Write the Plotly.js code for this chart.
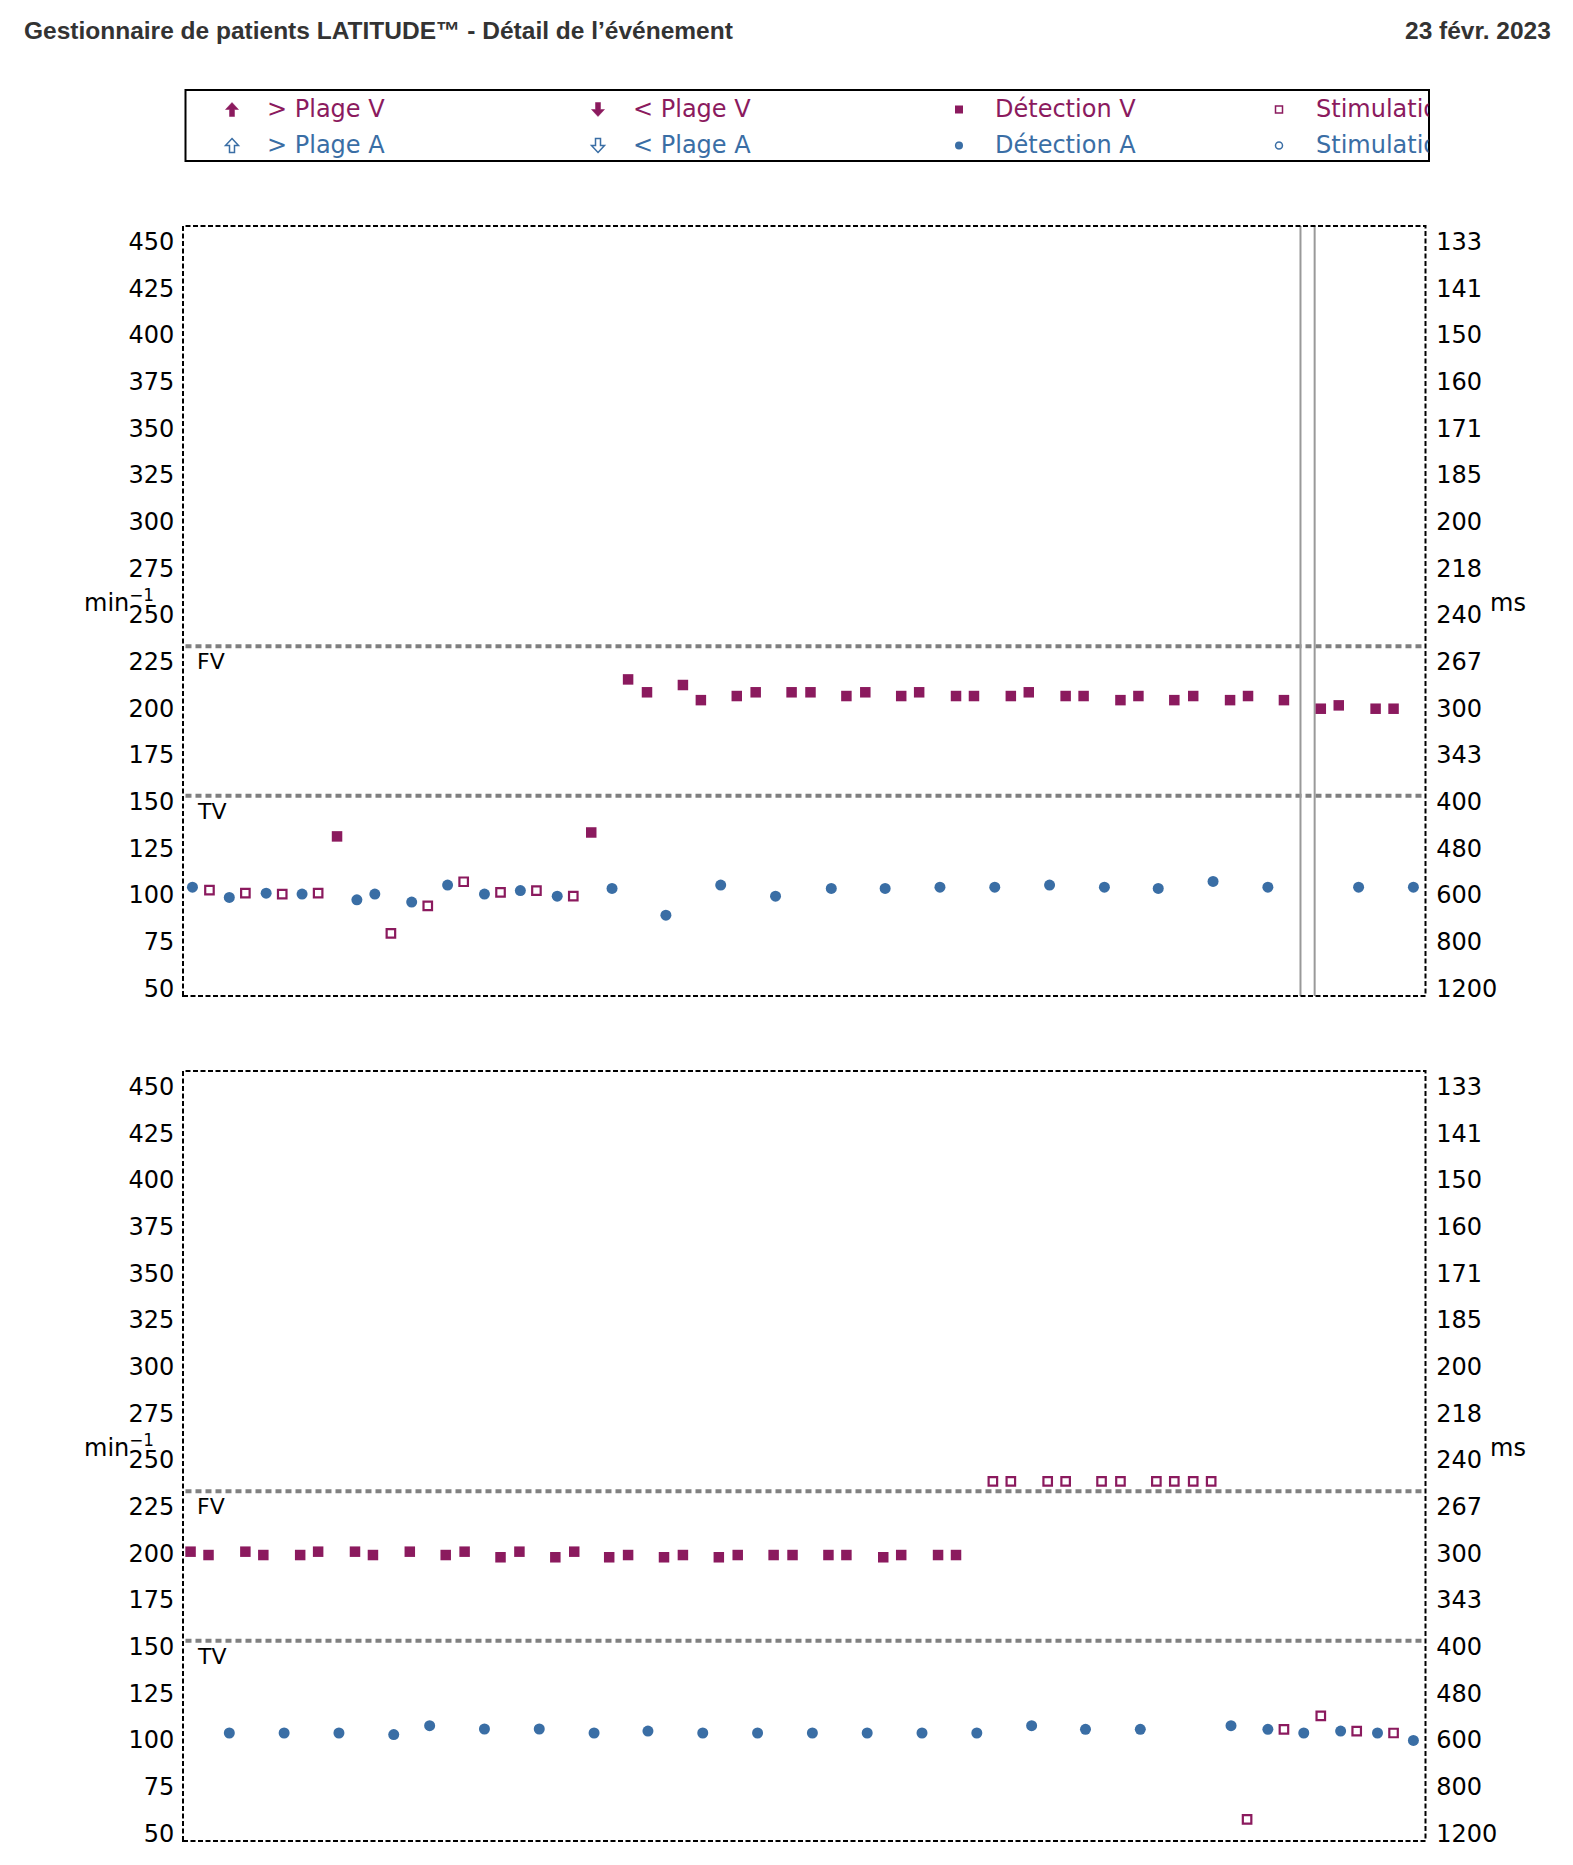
<!DOCTYPE html>
<html>
<head>
<meta charset="utf-8">
<script src="https://cdn.plot.ly/plotly-3.0.1.min.js"></script>
<style>html,body{margin:0;padding:0;background:#fff}#chart{width:1573px;height:1865px}</style>
</head>
<body>
<div id="chart"></div>
<script>
// ---------- data (time in s, rate in min-1) ----------
const rateTicks = [50,75,100,125,150,175,200,225,250,275,300,325,350,375,400,425,450];
const msTickText = ['1200','800','600','480','400','343','300','267','240','218','200','185','171','160','150','141','133'];
const zoneLimits = [233.3, 153.2];
const zoneLabels = ['FV','TV'];

// top strip
const topASenseT = [0.10,0.49,0.88,1.26,1.84,2.03,2.42,2.80,3.19,3.57,3.96,4.54,5.11,5.69,6.27,6.86,7.43,8.01,8.59,9.17,9.75,10.32,10.90,11.48,12.44,13.02];
const topASenseRate = [104.2,98.7,101.0,100.5,97.4,100.5,96.2,105.3,100.5,102.4,99.4,103.5,89.2,105.3,99.4,103.5,103.5,104.2,104.2,105.3,104.2,103.5,107.3,104.2,104.2,104.2];
const topVPaceT = [0.28,0.66,1.05,1.43,2.20,2.59,2.97,3.36,3.74,4.13];
const topVPaceRate = [102.6,101.0,100.5,101.0,79.4,94.2,107.1,101.4,102.4,99.4];
const topVSenseT = [1.63,4.32,4.71,4.91,5.29,5.48,5.86,6.06,6.44,6.64,7.02,7.22,7.60,7.79,8.18,8.37,8.76,8.95,9.34,9.53,9.92,10.11,10.49,10.69,11.08,11.27,11.65,12.04,12.23,12.62,12.81];
const topVSenseRate = [131.4,133.5,215.5,208.6,212.5,204.4,206.6,208.6,208.6,208.6,206.6,208.6,206.6,208.6,206.6,206.6,206.6,208.6,206.6,206.6,204.4,206.6,204.4,206.6,204.4,206.6,204.4,199.8,201.6,199.8,199.8];
const topEpisodeMarksT = [11.825, 11.975];

// bottom strip
const botASenseT = [0.49,1.07,1.65,2.23,2.61,3.19,3.77,4.35,4.92,5.50,6.08,6.66,7.24,7.82,8.40,8.98,9.55,10.13,11.09,11.48,11.86,12.25,12.64,13.02];
const botASenseRate = [103.75,103.75,103.75,102.9,107.7,105.9,105.9,103.75,104.8,103.75,103.75,103.75,103.75,103.75,103.75,107.7,105.7,105.7,107.7,105.7,103.75,104.8,103.75,99.8];
const botVSenseT = [0.08,0.27,0.66,0.85,1.24,1.43,1.82,2.01,2.40,2.78,2.98,3.36,3.56,3.94,4.14,4.51,4.71,5.09,5.29,5.67,5.87,6.25,6.45,6.83,7.02,7.41,7.60,7.99,8.18];
const botVSenseRate = [200.9,199.1,200.9,199.1,199.1,200.9,200.9,199.1,200.9,199.1,200.9,197.9,200.9,197.9,200.9,197.9,199.1,197.9,199.1,197.9,199.1,199.1,199.1,199.1,199.1,197.9,199.1,199.1,199.1];
const botVPaceT = [8.57,8.76,9.15,9.34,9.72,9.92,10.30,10.49,10.69,10.88,11.26,11.65,12.04,12.42,12.81];
const botVPaceRate = [238.6,238.6,238.6,238.6,238.6,238.6,238.6,238.6,238.6,238.6,57.5,105.7,112.9,104.8,103.75];

const legendRow1 = ['> Plage V','< Plage V','Détection V','Stimulation V'];
const legendRow2 = ['> Plage A','< Plage A','Détection A','Stimulation A'];

// ---------- styling ----------
const W = 1573, H = 1865;
const PURPLE = '#8B1A5E', BLUE = '#3A6EA5';
const FONT = 'DejaVu Sans';
const FS = 24;
const px = x => x / W;
const py = y => 1 - y / H;
const xDomain = [px(183), px(1425.5)];
const topDom = [py(996), py(226)];
const botDom = [py(1841), py(1071)];
const yRange = [45.9, 458.4];
const xRange = [0, 13.148];

function panelTraces(xa, ya, ya2, aT, aR, vsT, vsR, vpT, vpR) {
  return [
    {x: [], y: [], xaxis: xa, yaxis: ya2, mode: 'markers', showlegend: false, hoverinfo: 'skip'},
    {x: vsT, y: vsR, xaxis: xa, yaxis: ya, mode: 'markers', showlegend: false, cliponaxis: false,
     marker: {symbol: 'square', size: 10.5, color: PURPLE, line: {width: 0}}},
    {x: vpT, y: vpR, xaxis: xa, yaxis: ya, mode: 'markers', showlegend: false, cliponaxis: false,
     marker: {symbol: 'square-open', size: 8.5, color: PURPLE, line: {width: 2.2, color: PURPLE}}},
    {x: aT, y: aR, xaxis: xa, yaxis: ya, mode: 'markers', showlegend: false, cliponaxis: false,
     marker: {symbol: 'circle', size: 11, color: BLUE, line: {width: 0}}}
  ];
}

const data = [].concat(
  panelTraces('x', 'y', 'y2', topASenseT, topASenseRate, topVSenseT, topVSenseRate, topVPaceT, topVPaceRate),
  panelTraces('x2', 'y3', 'y4', botASenseT, botASenseRate, botVSenseT, botVSenseRate, botVPaceT, botVPaceRate)
);

function yLeft(domain) {
  return {domain: domain, range: yRange, tickvals: rateTicks, ticktext: rateTicks.map(String),
    showgrid: false, zeroline: false, showline: false, ticks: 'outside', ticklen: 3,
    tickcolor: 'rgba(0,0,0,0)', tickfont: {family: FONT, size: FS, color: '#000'}, fixedrange: true};
}
function yRight(anchorX, overl) {
  return {overlaying: overl, side: 'right', anchor: anchorX, range: yRange, tickvals: rateTicks, ticktext: msTickText,
    showgrid: false, zeroline: false, showline: false, ticks: 'outside', ticklen: 5,
    tickcolor: 'rgba(0,0,0,0)', tickfont: {family: FONT, size: FS, color: '#000'}, fixedrange: true};
}
function xAx() {
  return {domain: xDomain, range: xRange, visible: false, showgrid: false, zeroline: false, fixedrange: true};
}

const shapes = [];
const annotations = [];

// panel decorations
[['x', 'y'], ['x2', 'y3']].forEach(([xa, ya]) => {
  shapes.push({type: 'rect', xref: xa + ' domain', yref: ya + ' domain', x0: 0, x1: 1, y0: 0, y1: 1,
    line: {color: '#000', width: 2, dash: '5px,2.5px'}, fillcolor: 'rgba(0,0,0,0)', layer: 'above'});
  zoneLimits.forEach((v, i) => {
    shapes.push({type: 'line', xref: xa + ' domain', yref: ya, x0: 0.002, x1: 0.998, y0: v, y1: v,
      line: {color: '#808080', width: 4, dash: '6px,4px'}, layer: 'below'});
    annotations.push({xref: xa + ' domain', yref: ya, x: 0.0095, y: v, xanchor: 'left', yanchor: 'top', yshift: -1,
      text: zoneLabels[i], showarrow: false, font: {family: FONT, size: 22, color: '#000'}});
  });
});
topEpisodeMarksT.forEach(t => {
  shapes.push({type: 'line', xref: 'x', yref: 'y domain', x0: t, x1: t, y0: 0, y1: 1,
    line: {color: '#999', width: 2}, layer: 'below'});
});

// unit labels
[611, 611 + 845].forEach(base => {
  annotations.push({xref: 'paper', yref: 'paper', x: px(82), y: py(base + 8), xanchor: 'left', yanchor: 'bottom',
    text: 'min<sup>−1</sup>', showarrow: false, font: {family: FONT, size: FS, color: '#000'}});
  annotations.push({xref: 'paper', yref: 'paper', x: px(1488), y: py(base + 8), xanchor: 'left', yanchor: 'bottom',
    text: 'ms', showarrow: false, font: {family: FONT, size: FS, color: '#000'}});
});

// header
annotations.push({xref: 'paper', yref: 'paper', x: px(22), y: py(30), xanchor: 'left', yanchor: 'middle',
  text: '<b>Gestionnaire de patients LATITUDE™ - Détail de l’événement</b>', showarrow: false,
  font: {family: 'Liberation Sans', size: 24.5, color: '#333'}});
annotations.push({xref: 'paper', yref: 'paper', x: px(1553), y: py(30), xanchor: 'right', yanchor: 'middle',
  text: '<b>23 févr. 2023</b>', showarrow: false, font: {family: 'Liberation Sans', size: 24.5, color: '#333'}});

// legend box
shapes.push({type: 'rect', xref: 'paper', yref: 'paper', x0: px(185.5), x1: px(1429), y0: py(161), y1: py(90),
  line: {color: '#000', width: 2}, fillcolor: 'rgba(0,0,0,0)'});
const colText = [264.5, 630.5, 992.5, 1313.5];
const colSym = [232, 598, 959, 1279];
const rowY = [109.5, 145.5];
[legendRow1, legendRow2].forEach((row, r) => {
  const col = r === 0 ? PURPLE : BLUE;
  row.forEach((label, c) => {
    const a = {xref: 'paper', yref: 'paper', x: px(colText[c]), y: py(rowY[r]), xanchor: 'left', yanchor: 'middle',
      text: label, showarrow: false, align: 'left', font: {family: FONT, size: FS, color: col}};
    if (c === 3) a.width = 1428 - colText[c] - 2;
    annotations.push(a);
  });
});
function arrowPath(cx, cy, dir) {
  const s = dir; // 1 up, -1 down
  const pts = [[cx, cy - 7 * s], [cx + 6.5, cy], [cx + 2.5, cy], [cx + 2.5, cy + 7 * s],
               [cx - 2.5, cy + 7 * s], [cx - 2.5, cy], [cx - 6.5, cy]];
  return 'M' + pts.map(p => px(p[0]).toFixed(6) + ',' + py(p[1]).toFixed(6)).join('L') + 'Z';
}
// arrows
[[0, 1], [1, -1]].forEach(([c, dir]) => {
  shapes.push({type: 'path', xref: 'paper', yref: 'paper', path: arrowPath(colSym[c], rowY[0], dir),
    fillcolor: PURPLE, line: {color: PURPLE, width: 0.5}});
  shapes.push({type: 'path', xref: 'paper', yref: 'paper', path: arrowPath(colSym[c], rowY[1], dir),
    fillcolor: 'rgba(0,0,0,0)', line: {color: BLUE, width: 1.5}});
});
// squares / circles
const hs = 4;
shapes.push({type: 'rect', xref: 'paper', yref: 'paper', x0: px(colSym[2] - hs), x1: px(colSym[2] + hs),
  y0: py(rowY[0] + hs), y1: py(rowY[0] - hs), fillcolor: PURPLE, line: {width: 0}});
shapes.push({type: 'rect', xref: 'paper', yref: 'paper', x0: px(colSym[3] - hs + 0.5), x1: px(colSym[3] + hs - 0.5),
  y0: py(rowY[0] + hs - 0.5), y1: py(rowY[0] - hs + 0.5), fillcolor: 'rgba(0,0,0,0)', line: {color: PURPLE, width: 1.5}});
shapes.push({type: 'circle', xref: 'paper', yref: 'paper', x0: px(colSym[2] - hs), x1: px(colSym[2] + hs),
  y0: py(rowY[1] + hs), y1: py(rowY[1] - hs), fillcolor: BLUE, line: {width: 0}});
shapes.push({type: 'circle', xref: 'paper', yref: 'paper', x0: px(colSym[3] - hs + 0.5), x1: px(colSym[3] + hs - 0.5),
  y0: py(rowY[1] + hs - 0.5), y1: py(rowY[1] - hs + 0.5), fillcolor: 'rgba(0,0,0,0)', line: {color: BLUE, width: 1.5}});

const layout = {
  width: W, height: H, margin: {l: 0, r: 0, t: 0, b: 0}, paper_bgcolor: '#fff', plot_bgcolor: '#fff',
  showlegend: false,
  xaxis: xAx(), xaxis2: Object.assign(xAx(), {anchor: 'y3'}),
  yaxis: Object.assign(yLeft(topDom), {anchor: 'x'}),
  yaxis2: yRight('x', 'y'),
  yaxis3: Object.assign(yLeft(botDom), {anchor: 'x2'}),
  yaxis4: yRight('x2', 'y3'),
  shapes: shapes, annotations: annotations
};
layout.xaxis.anchor = 'y';
Plotly.newPlot('chart', data, layout, {staticPlot: true, displayModeBar: false});
</script>
</body>
</html>
